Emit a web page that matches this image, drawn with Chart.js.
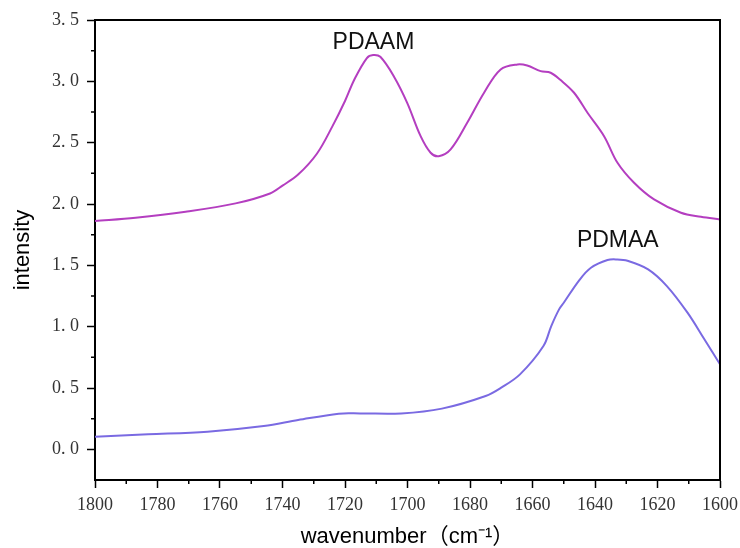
<!DOCTYPE html>
<html lang="en">
<head>
    <meta charset="UTF-8">
    <title>PDAAM / PDMAA spectra</title>
    <script src="https://cdn.jsdelivr.net/npm/chart.js"></script>
    <style>
        body { margin: 0; background: #fff; }
        #wrap { width: 740px; height: 548px; }
    </style>
</head>
<body>
    <div id="wrap"><canvas id="spectra" width="740" height="548"></canvas></div>

    <script>
        // PDAAM curve (wavenumber, intensity)
        const pdaamX = [1800, 1787, 1771, 1755, 1744, 1740, 1735, 1729, 1724, 1720, 1717, 1713, 1711, 1708.7, 1704.4,
                        1700.1, 1695.8, 1692.6, 1690, 1686.2, 1680.9, 1675.5, 1670.2, 1664.8, 1661.7, 1657.4, 1654.2,
                        1651, 1646.7, 1642.4, 1637.1, 1632.8, 1627.5, 1621.1, 1612.5, 1606.1, 1600];
        const pdaamY = [1.861, 1.888, 1.937, 2.005, 2.086, 2.15, 2.24, 2.41, 2.635, 2.84, 3.015, 3.19, 3.215, 3.20, 3.042,
                        2.825, 2.553, 2.418, 2.39, 2.445, 2.662, 2.907, 3.097, 3.138, 3.129, 3.083, 3.07,
                        3.01, 2.907, 2.744, 2.553, 2.336, 2.173, 2.037, 1.929, 1.896, 1.874];

        // PDMAA curve
        const pdmaaX = [1800, 1783, 1764, 1746, 1735, 1722, 1715, 1702, 1689, 1675, 1670, 1664, 1656.5, 1654,
                        1651.5, 1650, 1645, 1641.3, 1636, 1633, 1629.6, 1623, 1617, 1610.4, 1605, 1600];
        const pdmaaY = [0.103, 0.122, 0.144, 0.190, 0.239, 0.291, 0.293, 0.293, 0.332, 0.435, 0.503, 0.611, 0.842, 1.005,
                        1.141, 1.195, 1.38, 1.48, 1.543, 1.548, 1.537, 1.467, 1.331, 1.114, 0.897, 0.693];

        const xTicks = [1800, 1780, 1760, 1740, 1720, 1700, 1680, 1660, 1640, 1620, 1600];
        const yTicks = [0, 0.5, 1.0, 1.5, 2.0, 2.5, 3.0, 3.5];

        const labels = [
            { text: 'PDAAM', x: 1710.9, y: 3.317 },
            { text: 'PDMAA', x: 1632.7, y: 1.703 }
        ];

        const toPoints = (xs, ys) => xs.map((v, i) => ({ x: v, y: ys[i] }));

        // minor ticks, top/right frame and curve labels
        const extras = {
            id: 'extras',
            afterDraw(chart) {
                const { ctx, chartArea: a, scales: { x, y } } = chart;
                ctx.save();
                ctx.strokeStyle = '#000';
                ctx.lineWidth = 2;
                ctx.beginPath();
                ctx.moveTo(a.left, a.top);
                ctx.lineTo(a.right, a.top);
                ctx.lineTo(a.right, a.bottom);
                ctx.stroke();

                ctx.lineWidth = 1.5;
                ctx.beginPath();
                for (let v = 1790; v > 1600; v -= 20) {
                    const px = x.getPixelForValue(v);
                    ctx.moveTo(px, a.bottom);
                    ctx.lineTo(px, a.bottom + 4);
                }
                for (let v = 0.25; v < 3.5; v += 0.5) {
                    const py = y.getPixelForValue(v);
                    ctx.moveTo(a.left, py);
                    ctx.lineTo(a.left - 4, py);
                }
                ctx.stroke();

                ctx.fillStyle = '#111';
                ctx.font = '23px "Liberation Sans", Arial, sans-serif';
                ctx.textAlign = 'center';
                ctx.textBaseline = 'middle';
                labels.forEach(l => {
                    ctx.fillText(l.text, x.getPixelForValue(l.x), y.getPixelForValue(l.y));
                });
                ctx.restore();
            }
        };

        const tickFont = { family: '"Liberation Serif", "DejaVu Serif", serif', size: 18 };
        const titleFont = { family: '"Liberation Sans", "Noto Sans CJK SC", sans-serif', size: 22, lineHeight: 1 };

        const noOverhang = s => {
            s.paddingLeft = 0;
            s.paddingRight = 0;
            s.paddingTop = 0;
            s.paddingBottom = 0;
        };

        new Chart(document.getElementById('spectra'), {
            type: 'line',
            data: {
                datasets: [
                    {
                        label: 'PDAAM',
                        data: toPoints(pdaamX, pdaamY),
                        borderColor: 'rgb(180, 62, 192)',
                        borderWidth: 2,
                        pointRadius: 0,
                        tension: 0.35
                    },
                    {
                        label: 'PDMAA',
                        data: toPoints(pdmaaX, pdmaaY),
                        borderColor: 'rgb(122, 106, 226)',
                        borderWidth: 2,
                        pointRadius: 0,
                        tension: 0.35
                    }
                ]
            },
            options: {
                responsive: false,
                animation: false,
                layout: { padding: { top: 20, right: 20, left: 0, bottom: 0 } },
                plugins: {
                    legend: { display: false },
                    tooltip: { enabled: false }
                },
                scales: {
                    x: {
                        type: 'linear',
                        reverse: true,
                        min: 1600,
                        max: 1800,
                        afterBuildTicks: s => { s.ticks = xTicks.map(v => ({ value: v })); },
                        afterFit: s => { s.height = 68; noOverhang(s); },
                        ticks: {
                            font: tickFont,
                            color: '#333',
                            padding: 6,
                            maxRotation: 0,
                            autoSkip: false,
                            callback: v => String(v)
                        },
                        grid: {
                            drawOnChartArea: false,
                            tickLength: 8,
                            tickColor: '#000',
                            tickWidth: 1.5
                        },
                        border: { color: '#000', width: 2 },
                        title: {
                            display: true,
                            text: 'wavenumber（cm⁻¹）',
                            font: titleFont,
                            color: '#000',
                            padding: { top: 0, bottom: 0 }
                        }
                    },
                    y: {
                        type: 'linear',
                        min: -0.25,
                        max: 3.5,
                        afterBuildTicks: s => { s.ticks = yTicks.map(v => ({ value: v })); },
                        afterFit: s => { s.width = 95; noOverhang(s); },
                        ticks: {
                            font: tickFont,
                            color: '#333',
                            padding: 8,
                            callback: v => Number(v).toFixed(1).replace('.', '. ')
                        },
                        grid: {
                            drawOnChartArea: false,
                            tickLength: 8,
                            tickColor: '#000',
                            tickWidth: 1.5
                        },
                        border: { color: '#000', width: 2 },
                        title: {
                            display: true,
                            text: 'intensity',
                            font: titleFont,
                            color: '#000',
                            padding: { top: 12, bottom: 0 }
                        }
                    }
                }
            },
            plugins: [extras]
        });
    </script>
</body>
</html>
